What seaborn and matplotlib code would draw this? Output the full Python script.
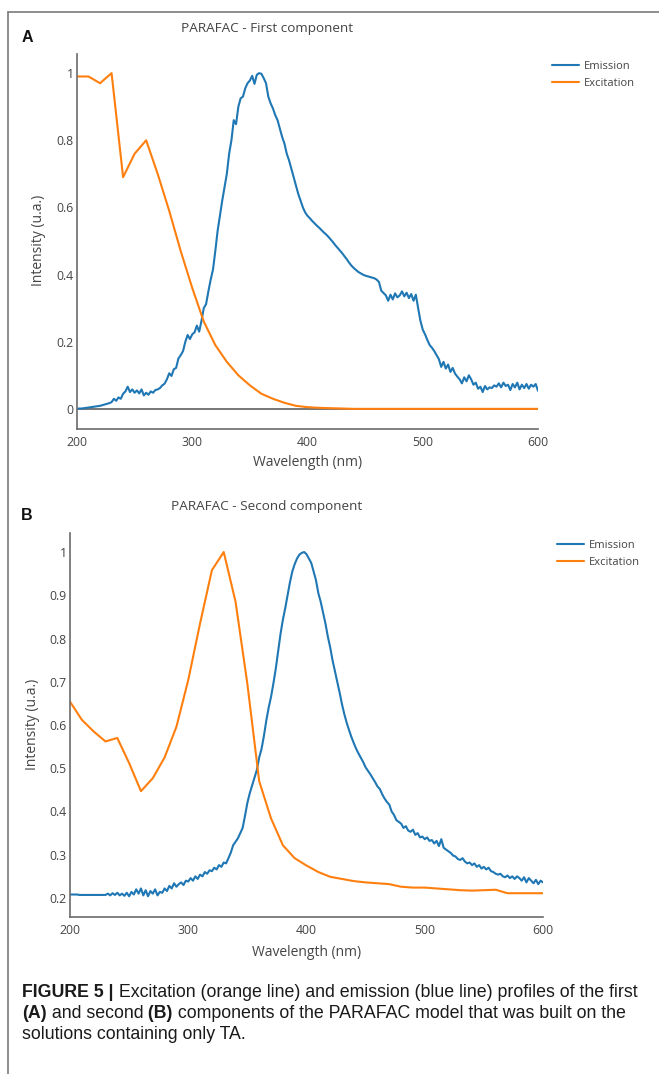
import numpy as np
import pandas as pd
import matplotlib
matplotlib.use("Agg")
import matplotlib.pyplot as plt
import seaborn as sns
from matplotlib import font_manager
from matplotlib.lines import Line2D

# ---------------- data ----------------
# Panel A - first component
em_a_wl = np.arange(200, 601, 2)
em_a = [
    0.000, 0.001, 0.001, 0.002, 0.003, 0.004, 0.005, 0.006, 0.007, 0.008,  # 200-218
    0.009, 0.011, 0.013, 0.015, 0.017, 0.020, 0.030, 0.024, 0.034, 0.030,  # 220-238
    0.045, 0.052, 0.066, 0.050, 0.058, 0.048, 0.055, 0.046, 0.058, 0.040,  # 240-258
    0.048, 0.042, 0.052, 0.048, 0.056, 0.058, 0.062, 0.070, 0.075, 0.088,  # 260-278
    0.106, 0.098, 0.118, 0.122, 0.150, 0.160, 0.172, 0.200, 0.220, 0.208,  # 280-298
    0.222, 0.228, 0.248, 0.230, 0.262, 0.300, 0.312, 0.350, 0.385, 0.415,  # 300-318
    0.470, 0.530, 0.575, 0.620, 0.660, 0.700, 0.760, 0.800, 0.860, 0.848,  # 320-338
    0.900, 0.925, 0.930, 0.955, 0.970, 0.978, 0.992, 0.968, 0.995, 1.000,  # 340-358
    0.998, 0.985, 0.970, 0.930, 0.910, 0.895, 0.875, 0.860, 0.835, 0.810,  # 360-378
    0.790, 0.760, 0.740, 0.715, 0.690, 0.665, 0.640, 0.620, 0.600, 0.585,  # 380-398
    0.575, 0.568, 0.560, 0.553, 0.546, 0.540, 0.533, 0.526, 0.520, 0.513,  # 400-418
    0.505, 0.497, 0.488, 0.480, 0.472, 0.464, 0.455, 0.446, 0.436, 0.427,  # 420-438
    0.420, 0.414, 0.408, 0.404, 0.400, 0.397, 0.395, 0.393, 0.391, 0.389,  # 440-458
    0.385, 0.378, 0.352, 0.345, 0.338, 0.322, 0.340, 0.326, 0.344, 0.332,  # 460-478
    0.338, 0.350, 0.335, 0.346, 0.330, 0.342, 0.322, 0.340, 0.300, 0.262,  # 480-498
    0.236, 0.222, 0.205, 0.190, 0.182, 0.172, 0.160, 0.148, 0.125, 0.140,  # 500-518
    0.120, 0.132, 0.110, 0.122, 0.105, 0.096, 0.088, 0.076, 0.094, 0.082,  # 520-538
    0.100, 0.088, 0.072, 0.078, 0.060, 0.066, 0.050, 0.068, 0.058, 0.064,  # 540-558
    0.062, 0.070, 0.066, 0.076, 0.064, 0.078, 0.068, 0.072, 0.056, 0.074,  # 560-578
    0.064, 0.078, 0.058, 0.072, 0.062, 0.074, 0.060, 0.072, 0.066, 0.074,  # 580-598
    0.054,                                                                  # 600
]
ex_a_wl = np.arange(200, 601, 10)
ex_a = [
    0.990, 0.990, 0.970, 1.000, 0.690, 0.760, 0.800, 0.700, 0.590, 0.470,  # 200-290
    0.360, 0.260, 0.190, 0.140, 0.100, 0.070, 0.045, 0.030, 0.018, 0.009,  # 300-390
    0.005, 0.003, 0.002, 0.001, 0.000, 0.000, 0.000, 0.000, 0.000, 0.000,  # 400-490
    0.000, 0.000, 0.000, 0.000, 0.000, 0.000, 0.000, 0.000, 0.000, 0.000,  # 500-590
    0.000,                                                                  # 600
]

# Panel B - second component
em_b_wl = np.arange(200, 601, 2)
em_b = [
    0.208, 0.208, 0.208, 0.208, 0.207, 0.207, 0.207, 0.207, 0.207, 0.207,  # 200-218
    0.207, 0.207, 0.207, 0.207, 0.207, 0.207, 0.210, 0.206, 0.211, 0.207,  # 220-238
    0.212, 0.206, 0.210, 0.205, 0.212, 0.204, 0.214, 0.208, 0.220, 0.210,  # 240-258
    0.222, 0.206, 0.218, 0.204, 0.216, 0.210, 0.220, 0.206, 0.214, 0.212,  # 260-278
    0.222, 0.216, 0.228, 0.222, 0.234, 0.226, 0.232, 0.236, 0.230, 0.240,  # 280-298
    0.238, 0.246, 0.240, 0.250, 0.244, 0.254, 0.250, 0.260, 0.256, 0.264,  # 300-318
    0.262, 0.270, 0.266, 0.276, 0.272, 0.282, 0.280, 0.292, 0.305, 0.322,  # 320-338
    0.330, 0.338, 0.350, 0.362, 0.390, 0.420, 0.442, 0.460, 0.478, 0.496,  # 340-358
    0.525, 0.545, 0.575, 0.610, 0.640, 0.665, 0.696, 0.730, 0.770, 0.810,  # 360-378
    0.843, 0.870, 0.900, 0.930, 0.955, 0.972, 0.985, 0.994, 0.998, 1.000,  # 380-398
    0.995, 0.985, 0.975, 0.955, 0.935, 0.905, 0.885, 0.860, 0.835, 0.805,  # 400-418
    0.780, 0.750, 0.725, 0.700, 0.675, 0.648, 0.625, 0.605, 0.588, 0.572,  # 420-438
    0.558, 0.545, 0.534, 0.524, 0.514, 0.502, 0.494, 0.486, 0.477, 0.468,  # 440-458
    0.458, 0.452, 0.440, 0.430, 0.422, 0.416, 0.400, 0.392, 0.380, 0.376,  # 460-478
    0.372, 0.362, 0.366, 0.356, 0.353, 0.358, 0.346, 0.350, 0.340, 0.342,  # 480-498
    0.336, 0.340, 0.332, 0.334, 0.326, 0.332, 0.320, 0.336, 0.316, 0.312,  # 500-518
    0.308, 0.304, 0.298, 0.296, 0.290, 0.288, 0.292, 0.284, 0.280, 0.282,  # 520-538
    0.276, 0.280, 0.272, 0.276, 0.268, 0.272, 0.266, 0.270, 0.262, 0.260,  # 540-558
    0.256, 0.254, 0.256, 0.250, 0.248, 0.252, 0.246, 0.250, 0.244, 0.250,  # 560-578
    0.246, 0.240, 0.248, 0.236, 0.246, 0.240, 0.234, 0.242, 0.232, 0.240,  # 580-598
    0.236,                                                                  # 600
]
ex_b_wl = np.arange(200, 601, 10)
ex_b = [
    0.654, 0.612, 0.585, 0.562, 0.570, 0.512, 0.447, 0.477, 0.525, 0.596,  # 200-290
    0.704, 0.835, 0.958, 1.000, 0.885, 0.695, 0.470, 0.384, 0.322, 0.292,  # 300-390
    0.275, 0.260, 0.249, 0.244, 0.239, 0.236, 0.234, 0.232, 0.226, 0.224,  # 400-490
    0.224, 0.222, 0.220, 0.218, 0.217, 0.218, 0.219, 0.211, 0.211, 0.211,  # 500-590
    0.211,                                                                  # 600
]

series_names = ["Emission", "Excitation"]
colors = {"Emission": "#1f77b4", "Excitation": "#ff7f0e"}
titles = ["PARAFAC - First component", "PARAFAC - Second component"]
panel_letters = ["A", "B"]
x_ticks = [200, 300, 400, 500, 600]
y_ticks_a = [0, 0.2, 0.4, 0.6, 0.8, 1]
y_ticklabels_a = ["0", "0.2", "0.4", "0.6", "0.8", "1"]
y_ticks_b = [0.2, 0.3, 0.4, 0.5, 0.6, 0.7, 0.8, 0.9, 1]
y_ticklabels_b = ["0.2", "0.3", "0.4", "0.5", "0.6", "0.7", "0.8", "0.9", "1"]
x_label = "Wavelength (nm)"
y_label = "Intensity (u.a.)"

# ---------------- figure ----------------
sns.set_style("white")
plt.rcParams["font.family"] = ["Open Sans", "DejaVu Sans"]

W, H = 659, 1074
fig = plt.figure(figsize=(W / 100, H / 100), dpi=100)


def fx(px):
    return px / W


def fy(py):
    return 1 - py / H


def make_axes(left, top, right, bottom):
    return fig.add_axes([fx(left), fy(bottom), (right - left) / W, (bottom - top) / H])


GRAY = "#444444"
AX_GRAY = "#6b6b6b"

panels = [
    dict(box=(77, 54, 538, 429), ylim=(-0.06, 1.057), yt=y_ticks_a, ytl=y_ticklabels_a,
         em=(em_a_wl, em_a), ex=(ex_a_wl, ex_a), title_pos=(267, 37), letter_pos=(27, 37),
         legend_pos=(552, 61), xlab=(307.5, 463), ylab=(38.5, 240), zero=True),
    dict(box=(70, 533, 543, 917), ylim=(0.156, 1.044), yt=y_ticks_b, ytl=y_ticklabels_b,
         em=(em_b_wl, em_b), ex=(ex_b_wl, ex_b), title_pos=(267, 515), letter_pos=(27, 516),
         legend_pos=(557, 540), xlab=(307, 952), ylab=(32, 724), zero=False),
]

for i, p in enumerate(panels):
    left, top, right, bottom = p["box"]
    ax = make_axes(left, top, right, bottom)
    df = pd.concat([
        pd.DataFrame({"wl": p["em"][0], "intensity": p["em"][1], "series": "Emission"}),
        pd.DataFrame({"wl": p["ex"][0], "intensity": p["ex"][1], "series": "Excitation"}),
    ], ignore_index=True)
    sns.lineplot(data=df, x="wl", y="intensity", hue="series", hue_order=series_names,
                 palette=colors, estimator=None, linewidth=1.5, legend=False, ax=ax)
    data_lines = list(ax.lines[:2])
    if p["zero"]:
        ax.axhline(0, color=AX_GRAY, lw=1.3, zorder=0.5)

    ax.set_xlim(200, 600)
    ax.set_ylim(*p["ylim"])
    ax.set_xticks(x_ticks)
    ax.set_xticklabels([str(t) for t in x_ticks])
    ax.set_yticks(p["yt"])
    ax.set_yticklabels(p["ytl"])
    ax.tick_params(axis="both", length=0, labelsize=8.8, labelcolor=GRAY)
    ax.tick_params(axis="x", pad=5)
    ax.tick_params(axis="y", pad=2.5)
    for s in ["top", "right"]:
        ax.spines[s].set_visible(False)
    for s in ["left", "bottom"]:
        ax.spines[s].set_color(AX_GRAY)
        ax.spines[s].set_linewidth(1.2)
    ax.grid(False)

    aw, ah = right - left, bottom - top
    ax.set_xlabel(x_label, fontsize=10, color=GRAY)
    ax.xaxis.set_label_coords((p["xlab"][0] - left) / aw, (bottom - p["xlab"][1]) / ah)
    ax.xaxis.label.set_va("center")
    ax.set_ylabel(y_label, fontsize=10, color=GRAY)
    ax.yaxis.set_label_coords((p["ylab"][0] - left) / aw, (bottom - p["ylab"][1]) / ah)
    ax.yaxis.label.set_va("center")
    ax.yaxis.label.set_ha("center")

    tx, ty = p["title_pos"]
    ax.set_title(titles[i], x=(tx - left) / aw, y=(bottom - ty) / ah, va="center",
                 fontsize=9.7, color=GRAY)

    lx, ly = p["letter_pos"]
    fig.text(fx(lx), fy(ly), panel_letters[i], ha="center", va="center", fontsize=11.5,
             fontweight="bold", family=["Liberation Sans", "DejaVu Sans"], color="#111111")

    gx, gy = p["legend_pos"]
    ax.legend(handles=data_lines, labels=series_names, loc="upper left",
              bbox_to_anchor=(fx(gx), fy(gy)), bbox_transform=fig.transFigure,
              frameon=False, borderpad=0, borderaxespad=0, handlelength=2.4,
              handletextpad=0.5, labelspacing=0.55, fontsize=8, labelcolor=GRAY)

# frame around the figure
fig.add_artist(Line2D([fx(8), fx(659)], [fy(12), fy(12)], color="#7a7a7a", lw=1.2))
fig.add_artist(Line2D([fx(8), fx(8)], [fy(12), fy(1074)], color="#7a7a7a", lw=1.2))

# ---------------- caption ----------------
names = {f.name for f in font_manager.fontManager.ttflist}
cap_family = "Liberation Sans Narrow" if "Liberation Sans Narrow" in names else "Liberation Sans"
cap_lines = [
    [("FIGURE 5 |", "bold"), (" Excitation (orange line) and emission (blue line) profiles of the first", "normal")],
    [("(A)", "bold"), (" and second", "normal"), (" (B)", "bold"),
     (" components of the PARAFAC model that was built on the", "normal")],
    [("solutions containing only TA.", "normal")],
]
cap_baselines = [997, 1018, 1039]
cap_x0 = 22
cap_target_w = 615

renderer = fig.canvas.get_renderer()


def place_line(pieces, x0, yb, size, draw=True):
    x = x0
    arts = []
    for text, weight in pieces:
        t = fig.text(fx(x), fy(yb), text, ha="left", va="baseline", fontsize=size,
                     fontweight=weight, family=cap_family, color="#1a1a1a")
        bb = t.get_window_extent(renderer)
        x = bb.x1
        arts.append(t)
    if not draw:
        for t in arts:
            t.remove()
    return x - x0


w = place_line(cap_lines[0], cap_x0, cap_baselines[0], 11, draw=False)
cap_size = 11 * cap_target_w / w
for pieces, yb in zip(cap_lines, cap_baselines):
    place_line(pieces, cap_x0, yb, cap_size)

fig.savefig("out.png", dpi=100)
